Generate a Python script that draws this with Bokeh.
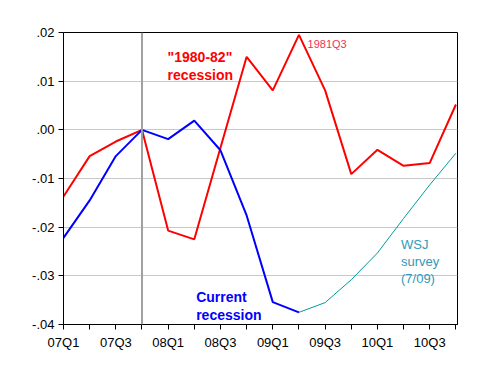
from bokeh.plotting import figure
from bokeh.models import FixedTicker, Span, Range1d
from bokeh.core.properties import value
from bokeh.embed import file_html
from bokeh.resources import INLINE

quarters = ["07Q1", "07Q2", "07Q3", "07Q4", "08Q1", "08Q2", "08Q3", "08Q4",
            "09Q1", "09Q2", "09Q3", "09Q4", "10Q1", "10Q2", "10Q3", "10Q4"]
recession_1980 = [-0.0137, -0.0054, -0.0024, 0.0, -0.0207, -0.0225, -0.0037, 0.0150,
                  0.0081, 0.0195, 0.0081, -0.0091, -0.0041, -0.0074, -0.0068, 0.0052]
current = [-0.0222, -0.0145, -0.0054, 0.0, -0.0019, 0.0019, -0.0042, -0.0176,
           -0.0354, -0.0375]
wsj_quarters = ["09Q2", "09Q3", "09Q4", "10Q1", "10Q2", "10Q3", "10Q4"]
wsj_survey = [-0.0375, -0.0355, -0.0308, -0.0253, -0.0182, -0.0113, -0.0048]
y_ticks = [-0.04, -0.03, -0.02, -0.01, 0.0, 0.01, 0.02]
y_tick_labels = ["-.04", "-.03", "-.02", "-.01", ".00", ".01", ".02"]
x_tick_labels = ["07Q1", "07Q3", "08Q1", "08Q3", "09Q1", "09Q3", "10Q1", "10Q3"]

FONT = "Liberation Sans"

xi = list(range(len(quarters)))
cur_x = xi[:len(current)]
wsj_x = [quarters.index(q) for q in wsj_quarters]

p = figure(frame_width=394, frame_height=292,
           min_border_left=63, min_border_right=30,
           min_border_top=32, min_border_bottom=40,
           output_backend="svg", toolbar_location=None,
           x_range=Range1d(0, 15.06), y_range=Range1d(-0.04, 0.02))

p.background_fill_color = "white"
p.border_fill_color = "white"
p.outline_line_color = "black"
p.outline_line_width = 1

p.xgrid.visible = False
p.ygrid.grid_line_color = "#c8c8c8"
p.ygrid.grid_line_width = 1
p.ygrid.ticker = FixedTicker(ticks=y_ticks)

# axes
p.xaxis.ticker = FixedTicker(ticks=xi)
p.xaxis.major_label_overrides = {i: (q if q in x_tick_labels else "") for i, q in zip(xi, quarters)}
p.yaxis.ticker = FixedTicker(ticks=y_ticks)
p.yaxis.major_label_overrides = {t: l for t, l in zip(y_ticks, y_tick_labels)}
for ax in (p.xaxis, p.yaxis):
    ax.axis_line_color = "black"
    ax.major_tick_line_color = "black"
    ax.minor_tick_line_color = None
    ax.major_tick_in = 0
    ax.major_tick_out = 5
    ax.major_label_text_font = FONT
    ax.major_label_text_font_size = "13px"
    ax.major_label_text_color = "black"
p.xaxis.major_label_standoff = 5
p.yaxis.major_label_standoff = 4

# vertical marker at 07Q4
p.add_layout(Span(location=quarters.index("07Q4"), dimension="height",
                  line_color="#a0a0a0", line_width=2))

p.line(xi, recession_1980, line_color="#ff0000", line_width=2)
p.line(cur_x, current, line_color="#0000ff", line_width=2)
p.line(wsj_x, wsj_survey, line_color="#009c9c", line_width=1)

common = dict(text_font=value(FONT), text_baseline="alphabetic", text_align="left")
p.text(x=[3.98, 3.98], y=[0.01488, 0.01123], text=['"1980-82"', "recession"],
       text_color="#ff0000", text_font_size="14px", text_font_style="bold", **common)
p.text(x=[5.07, 5.07], y=[-0.03438, -0.03798], text=["Current", "recession"],
       text_color="#0000ff", text_font_size="14px", text_font_style="bold", **common)
p.text(x=[9.33], y=[0.01761], text=["1981Q3"],
       text_color="#f0305a", text_font_size="11px", **common)
p.text(x=[12.9, 12.9, 12.9], y=[-0.02354, -0.02714, -0.03064],
       text=["WSJ", "survey", "(7/09)"],
       text_color="#3399b8", text_font_size="13px", **common)

open("out.html", "w").write(file_html(p, INLINE))
